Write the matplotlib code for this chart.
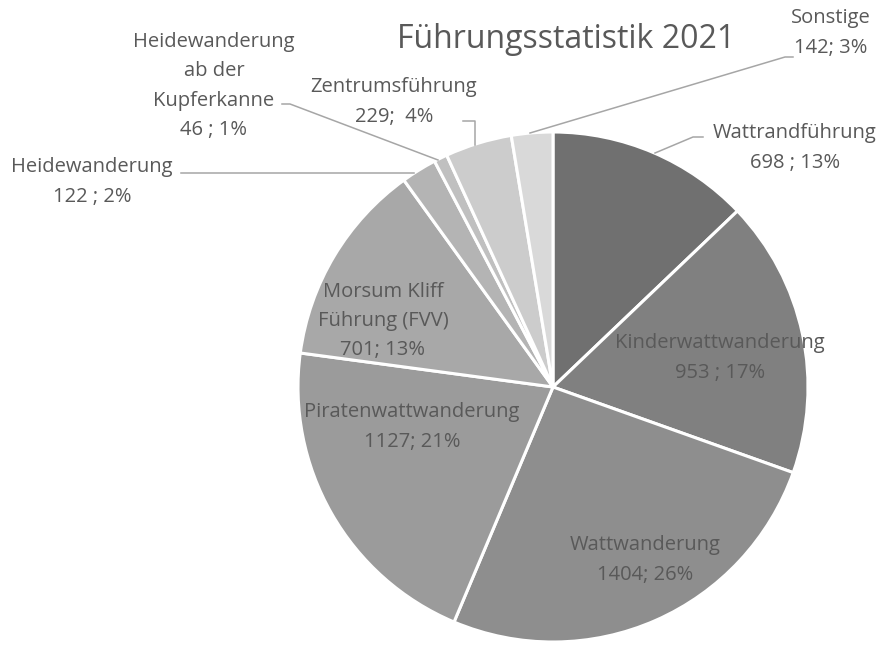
import matplotlib
matplotlib.use("Agg")
import matplotlib.pyplot as plt

plt.rcParams['font.family'] = ['Open Sans', 'DejaVu Sans']

# data
categories = ["Wattrandführung", "Kinderwattwanderung", "Wattwanderung",
              "Piratenwattwanderung", "Morsum Kliff\nFührung (FVV)", "Heidewanderung",
              "Heidewanderung\nab der\nKupferkanne", "Zentrumsführung", "Sonstige"]
values = [698, 953, 1404, 1127, 701, 122, 46, 229, 142]
percents = [13, 17, 26, 21, 13, 2, 1, 4, 3]
separators = [" ; ", " ; ", "; ", "; ", "; ", " ; ", " ; ", ";  ", "; "]
colors = ["#707070", "#808080", "#8e8e8e", "#9b9b9b", "#a8a8a8",
          "#b4b4b4", "#c0c0c0", "#cccccc", "#d9d9d9"]

W, H = 886, 645
TXT = "#595959"
LINE = "#a6a6a6"


def P(x, y):
    # image pixel coords -> axes coords (y up)
    return (x, H - y)


fig = plt.figure(figsize=(W / 100, H / 100), dpi=100)
ax = fig.add_axes([0, 0, 1, 1])

ax.pie(values, colors=colors, startangle=90, counterclock=False,
       center=P(553, 387), radius=255,
       wedgeprops=dict(edgecolor='white', linewidth=2.2))

# pie() resets the limits, so set them afterwards
ax.set_xlim(0, W)
ax.set_ylim(0, H)
ax.set_aspect('equal')
ax.axis('off')

labels = [f"{c}\n{v}{s}{p}%" for c, v, s, p in zip(categories, values, separators, percents)]

# label centres (pixels in the picture)
label_pos = [(795, 148), (720, 358), (645, 560), (412, 427), (383, 321),
             (92, 182), (214, 86), (394, 102), (831, 33)]
fs = 14.5
for lab, (x, y) in zip(labels, label_pos):
    ax.text(*P(x, y), lab, ha='center', va='center', fontsize=fs,
            color=TXT, linespacing=1.62)

# leader lines
leaders = [
    [(703, 137), (693, 137), (655, 153)],
    [(793, 57), (785, 57), (530, 133)],
    [(463, 121), (475, 121), (475, 145)],
    [(282, 104), (290, 104), (438, 160)],
    [(181, 173), (414, 173)],
]
for pts in leaders:
    xs = [p[0] for p in pts]
    ys = [H - p[1] for p in pts]
    ax.plot(xs, ys, color=LINE, linewidth=1.1)

ax.text(*P(566, 40), "Führungsstatistik 2021", ha='center', va='center',
        fontsize=23, color=TXT)

fig.savefig("out.png", dpi=100)
